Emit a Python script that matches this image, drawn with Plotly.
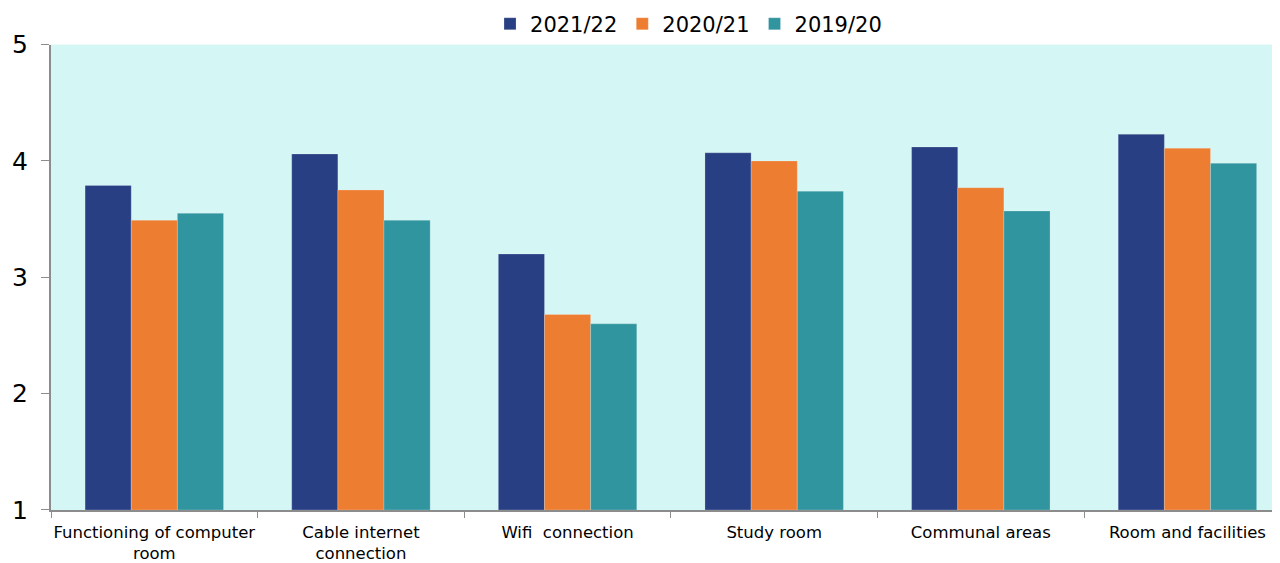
import plotly.graph_objects as go

categories = ["Functioning of computer<br>room", "Cable internet<br>connection", "Wifi&nbsp;&nbsp;connection",
              "Study room", "Communal areas", "Room and facilities"]
series_names = ["2021/22", "2020/21", "2019/20"]
v_2122 = [3.79, 4.06, 3.20, 4.07, 4.12, 4.23]
v_2021 = [3.49, 3.75, 2.68, 4.00, 3.77, 4.11]
v_1920 = [3.55, 3.49, 2.60, 3.74, 3.57, 3.98]
colors = ["#283F83", "#ED7D31", "#31959F"]

font = "Tahoma, Verdana, 'DejaVu Sans', sans-serif"

fig = go.Figure()
for name, vals, col in zip(series_names, [v_2122, v_2021, v_1920], colors):
    fig.add_trace(go.Bar(
        x=categories, y=[v - 1 for v in vals], base=1, name=name,
        marker=dict(color=col, line=dict(width=0.6, color="rgba(255,255,255,0.35)")),
    ))

fig.update_layout(
    width=1272, height=555,
    margin=dict(l=43, r=0, t=36, b=53),
    barmode="group", bargap=0.33, bargroupgap=0,
    plot_bgcolor="#D4F6F4", paper_bgcolor="white",
    font=dict(family=font, color="black"),
    legend=dict(orientation="h", xref="container", yref="container",
                x=0.535, xanchor="center", y=0.971, yanchor="middle",
                font=dict(size=21, family=font), traceorder="normal",
                itemwidth=30, bgcolor="rgba(0,0,0,0)"),
    showlegend=True,
)
fig.update_xaxes(
    type="category", range=[-0.5, 5.448], tickson="boundaries", ticks="outside", ticklen=6,
    tickcolor="#8c8c8c", showline=True, linecolor="#8c8c8c", linewidth=2,
    showgrid=False, tickfont=dict(size=16.5, family=font), tickangle=0,
    automargin=False, ticklabelstandoff=6,
)
fig.update_yaxes(
    range=[1, 5], tickvals=[1, 2, 3, 4, 5], ticks="outside", ticklen=8,
    tickcolor="#8c8c8c", showline=True, linecolor="#8c8c8c", linewidth=2,
    showgrid=False, zeroline=False, tickfont=dict(size=25, family=font),
    automargin=False, ticklabelstandoff=8,
)

fig.write_html("out.html")
